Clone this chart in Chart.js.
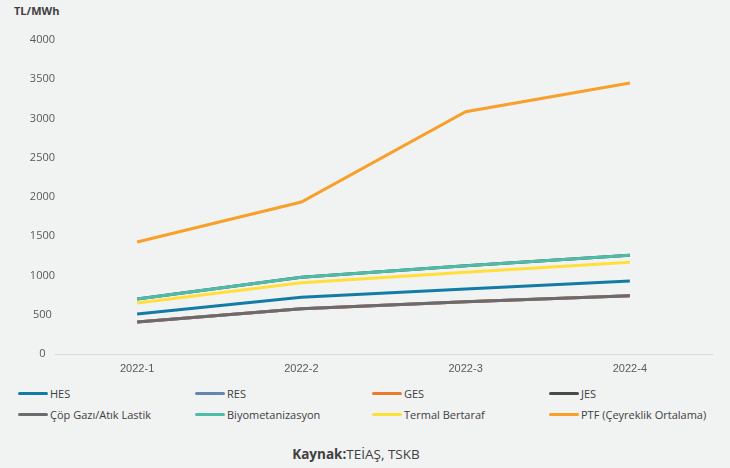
<!DOCTYPE html>
<html>
<head>
<meta charset="utf-8">
<script src="https://cdn.jsdelivr.net/npm/chart.js@4.4.1/dist/chart.umd.min.js"></script>
<style>
  body { margin: 0; background: #f1f2f2; width: 730px; height: 468px; position: relative; overflow: hidden; font-family: "Open Sans", sans-serif; color: #404040; }
  #birim { position: absolute; left: 14px; top: 3px; font-size: 11px; font-weight: bold; }
  #grafik_kutu { position: absolute; left: 0; top: 0; width: 730px; height: 380px; }
  #lejant { position: absolute; left: 18px; top: 383px; width: 712px; }
  .lej_satir { display: flex; height: 21px; align-items: center; }
  .lej_item { width: 177px; display: flex; align-items: center; font-size: 11px; }
  .lej_cizgi { width: 30px; height: 3px; border-radius: 2px; margin-right: 2px; }
  #kaynak { position: absolute; left: 0; width: 712px; top: 445px; text-align: center; font-size: 13.5px; }
</style>
</head>
<body>
<div id="birim">TL/MWh</div>
<div id="grafik_kutu"><canvas id="TarifeChart" width="730" height="380"></canvas></div>
<div id="lejant"></div>
<div id="kaynak"><b>Kaynak:</b>TEİAŞ, TSKB</div>
<script>
"use strict";

let donemler = ["2022-1", "2022-2", "2022-3", "2022-4"];
let seri_adlari = ["HES", "RES", "GES", "JES", "Çöp Gazı/Atık Lastik", "Biyometanizasyon", "Termal Bertaraf", "PTF (Çeyreklik Ortalama)"];
let seri_renkleri = ["#137ca6", "#5f87b2", "#e97a30", "#4a4a4c", "#6b6a6f", "#4dbda8", "#ffe03a", "#f7a02a"];

let hes = [510, 722, 828, 930];
let res = [408, 577, 666, 743];
let ges = [408, 577, 666, 743];
let jes = [700, 977, 1125, 1257];
let cop_gazi = [408, 577, 666, 743];
let biyometanizasyon = [700, 977, 1125, 1257];
let termal_bertaraf = [650, 908, 1040, 1168];
let ptf = [1427, 1936, 3087, 3452];

let y_ticks = [0, 500, 1000, 1500, 2000, 2500, 3000, 3500, 4000];

let seri_degerleri = [hes, res, ges, jes, cop_gazi, biyometanizasyon, termal_bertaraf, ptf];

let datasets = [];
for (let i = 0; i < seri_adlari.length; i++)
{
    datasets.push({
        label: seri_adlari[i],
        data: seri_degerleri[i],
        borderColor: seri_renkleri[i],
        backgroundColor: seri_renkleri[i],
        borderWidth: 3,
        pointRadius: 0,
        tension: 0,
        order: seri_adlari.length - i
    });
}

let TarifeCanvas = document.querySelector("#TarifeChart").getContext("2d");
let TarifeChart = new Chart(TarifeCanvas, {
    type: "line",
    data: {
        labels: donemler,
        datasets: datasets
    },
    options: {
        responsive: false,
        animation: false,
        layout: { padding: { left: 14, right: 18, top: 40, bottom: 0 } },
        plugins: {
            legend: { display: false },
            tooltip: { enabled: false }
        },
        scales: {
            x: {
                offset: true,
                grid: { display: false, drawTicks: false },
                border: { display: true, color: "#d9d9d9", width: 1 },
                ticks: { color: "#595959", font: { family: "Liberation Sans", size: 11 }, padding: 8 },
                afterFit: function (ax) { ax.height = 26; }
            },
            y: {
                min: 0,
                max: 4000,
                afterBuildTicks: function (ax) { ax.ticks = y_ticks.map(function (v) { return { value: v }; }); },
                grid: { display: false, drawTicks: false },
                border: { display: false },
                ticks: {
                    color: "#595959",
                    font: { family: "Open Sans", size: 11 },
                    crossAlign: "center",
                    padding: 0,
                    callback: function (v) { return String(v); }
                },
                afterFit: function (ax) { ax.width = 41; }
            }
        }
    }
});

// lejant, grafik verisinden
let lejant = document.getElementById("lejant");
let satir;
TarifeChart.data.datasets.forEach(function (ds, i)
{
    if (i % 4 === 0)
    {
        satir = document.createElement("div");
        satir.className = "lej_satir";
        lejant.appendChild(satir);
    }
    let item = document.createElement("div");
    item.className = "lej_item";
    item.innerHTML = '<span class="lej_cizgi" style="background:' + ds.borderColor + '"></span>' + ds.label;
    satir.appendChild(item);
});
</script>
</body>
</html>
